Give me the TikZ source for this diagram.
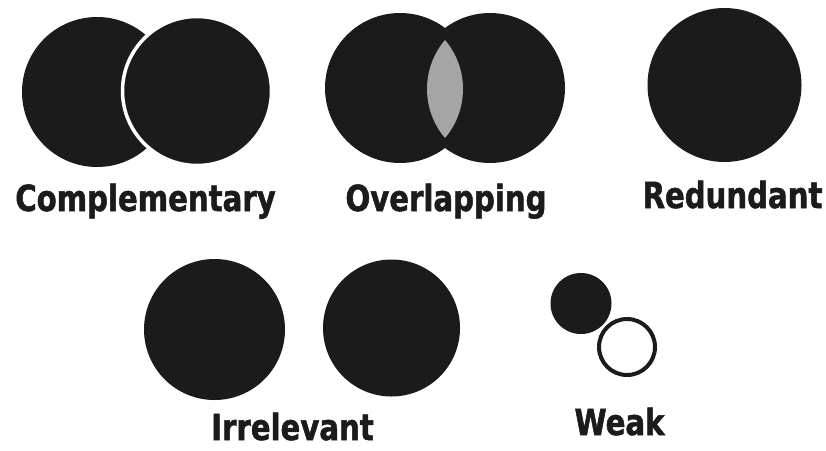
\documentclass[tikz,border=0pt]{standalone}
\usepackage{fontspec}
\newfontfamily\lblfont{DejaVu Sans Bold}[FakeStretch=0.81, FakeBold=1.4]
\definecolor{ink}{HTML}{1B1B1B}
\definecolor{lens}{HTML}{A5A5A5}
\begin{document}
\begin{tikzpicture}[
  x=1pt,y=-1pt,
  disc/.style={circle, fill=ink, inner sep=0pt, outer sep=0pt},
  ring/.style={circle, draw=ink, fill=white, line width=4pt, inner sep=0pt},
  caption/.style={anchor=base, inner sep=0pt, text=ink,
    font=\lblfont\fontsize{36}{40}\selectfont}
]
\useasboundingbox (0,0) rectangle (826,450);

% Complementary: the right disc sits on the left one with a white rim.
\node[disc, minimum size=150] (compL) at (97,92) {};
\node[disc, draw=white, line width=3.5pt, minimum size=149] (compR) at (197,91) {};
\node[caption] (capComp) at (145.5,211) {Complementary};

% Overlapping: shared region shown as a grey lens.
\node[disc, minimum size=150] (overL) at (400,88) {};
\node[disc, minimum size=150] (overR) at (490,88) {};
\begin{scope}
  \clip (387.3,89) circle (75.7);
  \fill[lens] (502.7,89) circle (75.7);
\end{scope}
\node[caption] (capOver) at (446,211) {Overlapping};

% Redundant: a single disc.
\node[disc, minimum size=154] (redu) at (724.5,85) {};
\node[caption] (capRedu) at (732.5,208) {Redundant};

% Irrelevant: two separate discs.
\node[disc, minimum size=141] (irrL) at (214.5,329.5) {};
\node[disc, minimum size=137] (irrR) at (391.5,328) {};
\node[caption] (capIrr) at (292.5,440) {Irrelevant};

% Weak: small filled disc and small hollow ring.
\node[disc, minimum size=61] (weakA) at (581,303.5) {};
\node[ring, minimum size=56] (weakB) at (627,347) {};
\node[caption] (capWeak) at (619.5,435) {Weak};

\end{tikzpicture}
\end{document}
